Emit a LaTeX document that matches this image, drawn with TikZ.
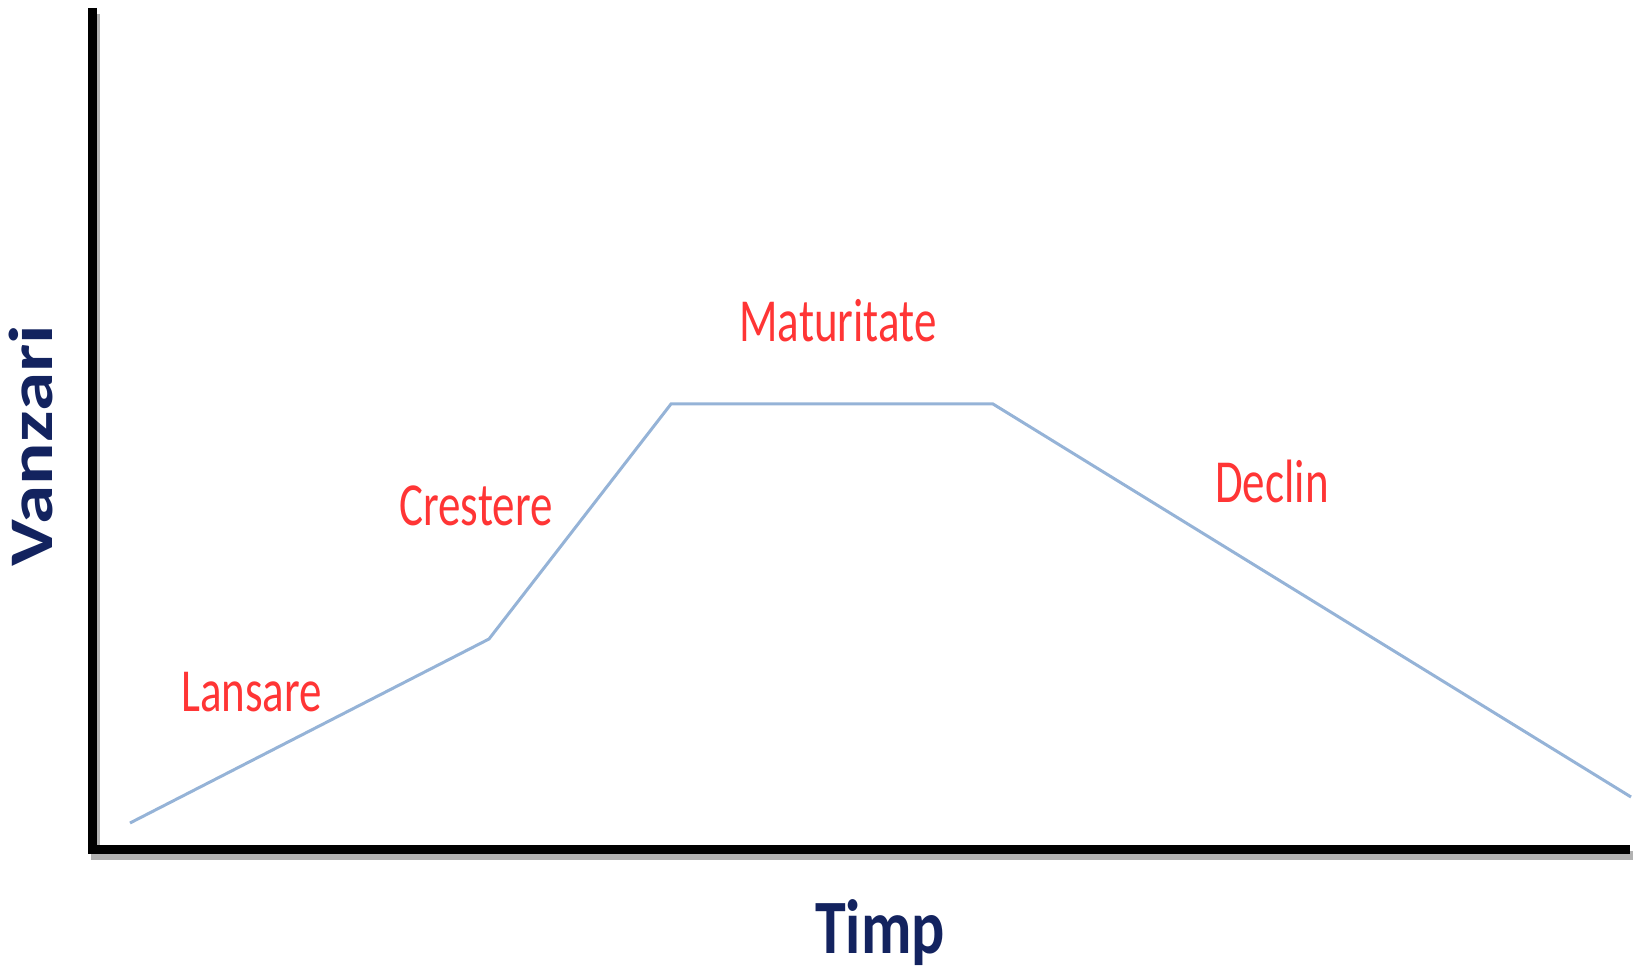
\documentclass[tikz,border=0pt]{standalone}
\usepackage{fontspec}
\setmainfont{Carlito}
\definecolor{curve}{HTML}{95B3D7}
\definecolor{lbl}{HTML}{FF3535}
\definecolor{navy}{HTML}{13235F}
\begin{document}
\begin{tikzpicture}[x=1pt,y=-1pt,
  stage/.style={text=lbl,anchor=base,inner sep=0pt,font=\fontsize{45}{54}\selectfont},
  axtitle/.style={text=navy,inner sep=0pt,font=\fontsize{62}{70}\selectfont\bfseries},
  axis/.style={line width=9pt,black},
  axshadow/.style={line width=9pt,black!30}]
\useasboundingbox (0,0) rectangle (1639,973);
\coordinate (top) at (92,8);
\coordinate (org) at (92,849);
\coordinate (xend) at (1630,849);
\draw[axshadow] ([shift={(3,6)}]top) -- ([shift={(3,6)}]org) -- ([shift={(3,6)}]xend);
\draw[axis,line join=miter] (top) -- (org) -- (xend);
\coordinate (p0) at (130,823);
\coordinate (p1) at (489,639);
\coordinate (p2) at (671,404);
\coordinate (p3) at (993,404);
\coordinate (p4) at (1631,797);
\draw[curve,line width=3pt] (p0) -- (p1) -- (p2) -- (p3) -- (p4);
\node[stage] (lansare) at (251.5,711) {\scalebox{1}[1.36]{Lansare}};
\node[stage] (crestere) at (476,525) {\scalebox{1}[1.36]{Crestere}};
\node[stage] (maturitate) at (838,342) {\scalebox{1}[1.36]{Maturitate}};
\node[stage] (declin) at (1272,502) {\scalebox{1}[1.36]{Declin}};
\node[axtitle,anchor=base] (timp) at (880,953) {\scalebox{1}[1.24]{Timp}};
\node[axtitle,anchor=base,rotate=90] (vanzari) at (52,446) {\scalebox{1.28}[1]{Vanzari}};
\end{tikzpicture}
\end{document}
